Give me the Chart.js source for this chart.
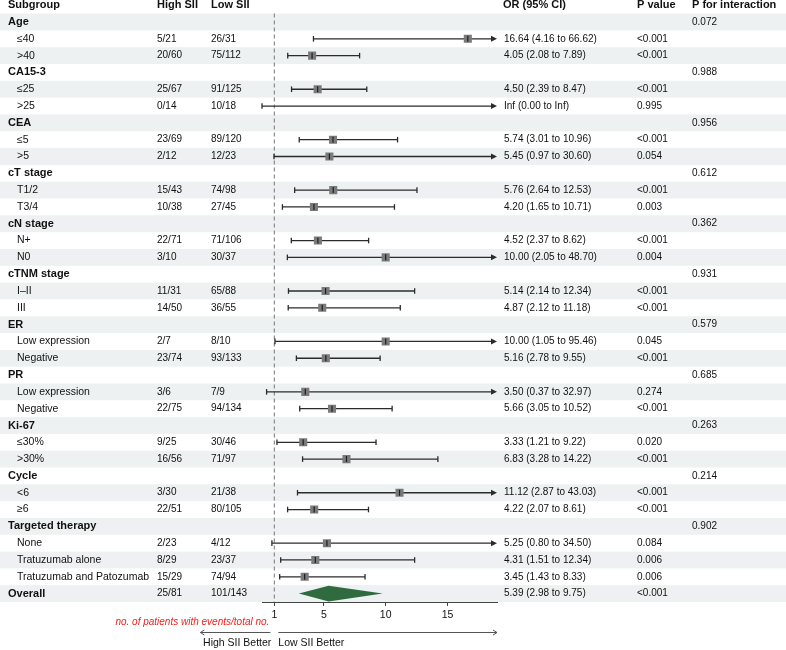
<!DOCTYPE html>
<html>
<head>
<meta charset="utf-8">
<script src="https://cdn.jsdelivr.net/npm/chart.js@4.4.0/dist/chart.umd.min.js"></script>
<style>
  html, body { margin: 0; padding: 0; background: #fff; }
  #wrap { width: 786px; height: 650px; }
</style>
</head>
<body>
<div id="wrap"><canvas id="forest"></canvas></div>
<script>
/* global Chart */

var subgroups = ["Age", "≤40", ">40", "CA15-3", "≤25", ">25", "CEA", "≤5", ">5",
    "cT stage", "T1/2", "T3/4", "cN stage", "N+", "N0", "cTNM stage", "I–II", "III",
    "ER", "Low expression", "Negative", "PR", "Low expression", "Negative",
    "Ki-67", "≤30%", ">30%", "Cycle", "<6", "≥6",
    "Targeted therapy", "None", "Tratuzumab alone", "Tratuzumab and Patozumab", "Overall"];
var isGroup = [1, 0, 0, 1, 0, 0, 1, 0, 0, 1, 0, 0, 1, 0, 0, 1, 0, 0,
    1, 0, 0, 1, 0, 0, 1, 0, 0, 1, 0, 0, 1, 0, 0, 0, 1];
var highSII = ["", "5/21", "20/60", "", "25/67", "0/14", "", "23/69", "2/12",
    "", "15/43", "10/38", "", "22/71", "3/10", "", "11/31", "14/50",
    "", "2/7", "23/74", "", "3/6", "22/75", "", "9/25", "16/56", "", "3/30", "22/51",
    "", "2/23", "8/29", "15/29", "25/81"];
var lowSII = ["", "26/31", "75/112", "", "91/125", "10/18", "", "89/120", "12/23",
    "", "74/98", "27/45", "", "71/106", "30/37", "", "65/88", "36/55",
    "", "8/10", "93/133", "", "7/9", "94/134", "", "30/46", "71/97", "", "21/38", "80/105",
    "", "4/12", "23/37", "74/94", "101/143"];
var oddsRatio = [null, 16.64, 4.05, null, 4.50, Infinity, null, 5.74, 5.45,
    null, 5.76, 4.20, null, 4.52, 10.00, null, 5.14, 4.87,
    null, 10.00, 5.16, null, 3.50, 5.66, null, 3.33, 6.83, null, 11.12, 4.22,
    null, 5.25, 4.31, 3.45, 5.39];
var ciLower = [null, 4.16, 2.08, null, 2.39, 0.00, null, 3.01, 0.97,
    null, 2.64, 1.65, null, 2.37, 2.05, null, 2.14, 2.12,
    null, 1.05, 2.78, null, 0.37, 3.05, null, 1.21, 3.28, null, 2.87, 2.07,
    null, 0.80, 1.51, 1.43, 2.98];
var ciUpper = [null, 66.62, 7.89, null, 8.47, Infinity, null, 10.96, 30.60,
    null, 12.53, 10.71, null, 8.62, 48.70, null, 12.34, 11.18,
    null, 95.46, 9.55, null, 32.97, 10.52, null, 9.22, 14.22, null, 43.03, 8.61,
    null, 34.50, 12.34, 8.33, 9.75];
var pValue = ["", "<0.001", "<0.001", "", "<0.001", "0.995", "", "<0.001", "0.054",
    "", "<0.001", "0.003", "", "<0.001", "0.004", "", "<0.001", "<0.001",
    "", "0.045", "<0.001", "", "0.274", "<0.001", "", "0.020", "<0.001", "", "<0.001", "<0.001",
    "", "0.084", "0.006", "0.006", "<0.001"];
var pInteraction = ["0.072", "", "", "0.988", "", "", "0.956", "", "", "0.612", "", "",
    "0.362", "", "", "0.931", "", "", "0.579", "", "", "0.685", "", "",
    "0.263", "", "", "0.214", "", "", "0.902", "", "", "", ""];
var xTicks = [1, 5, 10, 15];
var summaryIndex = subgroups.length - 1;

var FONT = '"Liberation Sans", Arial, sans-serif';

function fmt(v) {
    return isFinite(v) ? v.toFixed(2) : 'Inf';
}

var ciText = oddsRatio.map(function (v, i) {
    if (v === null) return '';
    return fmt(v) + ' (' + fmt(ciLower[i]) + ' to ' + fmt(ciUpper[i]) + ')';
});

var squares = [];
oddsRatio.forEach(function (v, i) {
    if (v !== null && isFinite(v) && i !== summaryIndex) squares.push({x: v, y: i + 1});
});

var forestPlugin = {
    id: 'forest',
    beforeDatasetsDraw: function (chart) {
        var ctx = chart.ctx, xs = chart.scales.x, ys = chart.scales.y, area = chart.chartArea;
        var rowH = Math.abs(ys.getPixelForValue(2) - ys.getPixelForValue(1));
        ctx.save();

        // zebra stripes
        ctx.fillStyle = '#eef1f1';
        subgroups.forEach(function (s, i) {
            if (i % 2 === 0) {
                var yc = ys.getPixelForValue(i + 1);
                ctx.fillRect(0, yc - rowH / 2, chart.width, rowH);
            }
        });

        // no-effect line
        var x1 = xs.getPixelForValue(1);
        ctx.setLineDash([4, 3]);
        ctx.strokeStyle = '#8c8c8c';
        ctx.lineWidth = 1.2;
        ctx.beginPath();
        ctx.moveTo(x1, area.top);
        ctx.lineTo(x1, area.bottom);
        ctx.stroke();
        ctx.setLineDash([]);

        // confidence intervals
        ctx.strokeStyle = '#2b2b2b';
        ctx.fillStyle = '#2b2b2b';
        ctx.lineWidth = 1.3;
        for (var i = 0; i < subgroups.length; i++) {
            if (ciLower[i] === null || i === summaryIndex) continue;
            var y = ys.getPixelForValue(i + 1);
            var clipL = ciLower[i] < xs.min, clipR = ciUpper[i] > xs.max;
            var xl = xs.getPixelForValue(clipL ? xs.min : ciLower[i]);
            var xr = xs.getPixelForValue(clipR ? xs.max : ciUpper[i]);
            ctx.beginPath();
            ctx.moveTo(clipL ? xl + 5 : xl, y);
            ctx.lineTo(clipR ? xr - 5 : xr, y);
            ctx.stroke();
            if (!clipL) {
                ctx.beginPath(); ctx.moveTo(xl, y - 2.8); ctx.lineTo(xl, y + 2.8); ctx.stroke();
            } else {
                ctx.beginPath(); ctx.moveTo(xl, y); ctx.lineTo(xl + 6, y - 3); ctx.lineTo(xl + 6, y + 3); ctx.fill();
            }
            if (!clipR) {
                ctx.beginPath(); ctx.moveTo(xr, y - 2.8); ctx.lineTo(xr, y + 2.8); ctx.stroke();
            } else {
                ctx.beginPath(); ctx.moveTo(xr, y); ctx.lineTo(xr - 6, y - 3); ctx.lineTo(xr - 6, y + 3); ctx.fill();
            }
        }
        ctx.restore();
    },
    afterDatasetsDraw: function (chart) {
        var ctx = chart.ctx, xs = chart.scales.x, ys = chart.scales.y;
        var rowH = Math.abs(ys.getPixelForValue(2) - ys.getPixelForValue(1));
        var i = summaryIndex, y = ys.getPixelForValue(i + 1), h = rowH * 0.47;
        ctx.save();
        ctx.fillStyle = '#2f6b3f';
        ctx.beginPath();
        ctx.moveTo(xs.getPixelForValue(ciLower[i]), y);
        ctx.lineTo(xs.getPixelForValue(oddsRatio[i]), y - h);
        ctx.lineTo(xs.getPixelForValue(ciUpper[i]), y);
        ctx.lineTo(xs.getPixelForValue(oddsRatio[i]), y + h);
        ctx.closePath();
        ctx.fill();
        ctx.restore();
    },
    afterDraw: function (chart) {
        var ctx = chart.ctx, xs = chart.scales.x, ys = chart.scales.y, area = chart.chartArea;
        ctx.save();
        ctx.textBaseline = 'middle';
        ctx.fillStyle = '#111';

        // header
        var yh = ys.getPixelForValue(0);
        ctx.font = 'bold 11px ' + FONT;
        ctx.textAlign = 'left';
        ctx.fillText('Subgroup', 8, yh);
        ctx.fillText('High SII', 157, yh);
        ctx.fillText('Low SII', 211, yh);
        ctx.fillText('OR (95% CI)', 503, yh);
        ctx.fillText('P value', 637, yh);
        ctx.fillText('P for interaction', 692, yh);

        for (var i = 0; i < subgroups.length; i++) {
            var y = ys.getPixelForValue(i + 1);
            ctx.font = (isGroup[i] ? 'bold 11px ' : '10.5px ') + FONT;
            ctx.fillText(subgroups[i], isGroup[i] ? 8 : 17, y);
            ctx.font = '10px ' + FONT;
            ctx.fillText(highSII[i], 157, y);
            ctx.fillText(lowSII[i], 211, y);
            ctx.fillText(ciText[i], 504, y);
            ctx.fillText(pValue[i], 637, y);
            ctx.fillText(pInteraction[i], 692, y);
        }

        // footnotes and direction arrows
        var x1 = xs.getPixelForValue(1);
        var b = area.bottom;
        ctx.font = 'italic 10px ' + FONT;
        ctx.fillStyle = '#e8231e';
        ctx.textAlign = 'right';
        ctx.fillText('no. of patients with events/total no.', x1 - 5, b + 20.5);

        ctx.strokeStyle = '#555';
        ctx.lineWidth = 1;
        var ya = b + 30.5;
        ctx.beginPath();
        ctx.moveTo(x1 - 4, ya); ctx.lineTo(x1 - 74, ya);
        ctx.moveTo(x1 - 70, ya - 2.5); ctx.lineTo(x1 - 74, ya); ctx.lineTo(x1 - 70, ya + 2.5);
        ctx.moveTo(x1 + 4, ya); ctx.lineTo(area.right, ya);
        ctx.moveTo(area.right - 4, ya - 2.5); ctx.lineTo(area.right, ya); ctx.lineTo(area.right - 4, ya + 2.5);
        ctx.stroke();

        ctx.fillStyle = '#111';
        ctx.font = '10.5px ' + FONT;
        ctx.textAlign = 'right';
        ctx.fillText('High SII Better', x1 - 3, b + 41.5);
        ctx.textAlign = 'left';
        ctx.fillText('Low SII Better', x1 + 4, b + 41.5);
        ctx.restore();
    }
};

new Chart(document.getElementById('forest'), {
    type: 'scatter',
    data: {
        datasets: [{
            // point estimate boxes
            data: squares,
            order: 2,
            pointStyle: 'rect',
            pointRadius: 5.7,
            backgroundColor: '#7a7a7a',
            borderWidth: 0
        }, {
            // centre tick drawn on top of each box
            data: squares,
            order: 1,
            pointStyle: 'line',
            pointRotation: 90,
            pointRadius: 3,
            borderColor: '#1e1e1e',
            pointBorderColor: '#1e1e1e',
            pointBorderWidth: 1.2
        }]
    },
    options: {
        responsive: true,
        maintainAspectRatio: false,
        animation: false,
        events: [],
        layout: {
            padding: {left: 262, right: 289, top: 13.6, bottom: 25.4}
        },
        plugins: {
            legend: {display: false},
            tooltip: {enabled: false}
        },
        scales: {
            x: {
                type: 'linear',
                min: 0,
                max: 19,
                afterBuildTicks: function (scale) {
                    scale.ticks = xTicks.map(function (v) { return {value: v}; });
                },
                grid: {drawOnChartArea: false, drawTicks: true, tickLength: 4, color: '#444'},
                border: {display: true, color: '#444', width: 1},
                ticks: {color: '#111', padding: 3, font: {family: FONT, size: 10.5}}
            },
            y: {
                type: 'linear',
                min: 0.5,
                max: subgroups.length + 0.5,
                reverse: true,
                display: false
            }
        }
    },
    plugins: [forestPlugin]
});
</script>
</body>
</html>
